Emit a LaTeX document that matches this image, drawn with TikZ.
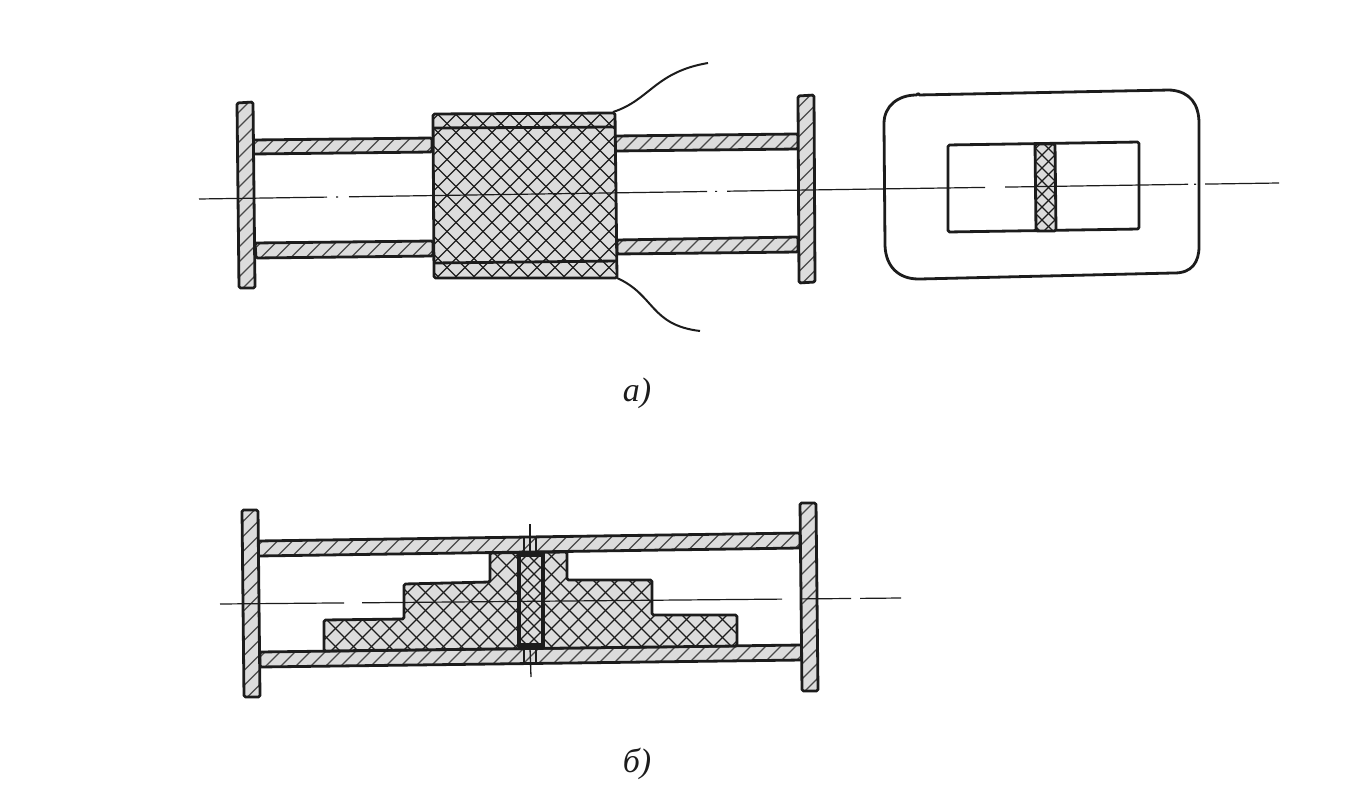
\documentclass[tikz,border=0pt]{standalone}
\usepackage{fontspec}
\setmainfont{Liberation Serif}
\definecolor{ink}{HTML}{1C1C1C}
\definecolor{body}{HTML}{DCDCDC}
\tikzset{
  x=1pt,y=-1pt,
  outline/.style={draw=ink,line width=2.8pt,line join=round,rounded corners=1.5pt},
  slashhatch/.style={outline,fill=body,path picture={
    \foreach \i in {-420,-405,...,420}
      \draw[ink!80,line width=1.1pt] ([xshift=\i pt]path picture bounding box.center) ++(-300pt,-300pt) -- ++(600pt,600pt);}},
  crosshatch/.style={outline,fill=body,path picture={
    \foreach \i in {-420,-402,...,420}{
      \draw[ink,line width=1.3pt] ([xshift=\i pt]path picture bounding box.center) ++(-300pt,-300pt) -- ++(600pt,600pt);
      \draw[ink,line width=1.3pt] ([xshift=\i pt]path picture bounding box.center) ++(-300pt,300pt) -- ++(600pt,-600pt);}}},
  finehatch/.style={outline,fill=body,path picture={
    \foreach \i in {-140,-127,...,140}{
      \draw[ink,line width=1.2pt] ([xshift=\i pt]path picture bounding box.center) ++(-100pt,-100pt) -- ++(200pt,200pt);
      \draw[ink,line width=1.2pt] ([xshift=\i pt]path picture bounding box.center) ++(-100pt,100pt) -- ++(200pt,-200pt);}}},
  axisline/.style={ink,line width=1.2pt},
  wire/.style={ink,line width=2pt},
  thinline/.style={ink,line width=1.3pt},
  heavy/.style={ink,line width=3.6pt},
  caption/.style={font=\itshape\fontsize{34}{34}\selectfont,text=ink,inner sep=0pt}
}
\begin{document}
\begin{tikzpicture}
\useasboundingbox[fill=white] (0,0) rectangle (1370,810);
% --- figure a, left view ---
\path[slashhatch] (253,140) -- (432,138) -- (432,152) -- (253,154) -- cycle;
\path[slashhatch] (255,243) -- (433,241) -- (433,256) -- (256,258) -- cycle;
\path[slashhatch] (615,136) -- (798,134) -- (798,149) -- (615,151) -- cycle;
\path[slashhatch] (617,240) -- (798,237) -- (798,252) -- (617,254) -- cycle;
\path[slashhatch] (237,103) -- (253,102) -- (255,288) -- (239,288) -- cycle;
\path[slashhatch] (798,96) -- (814,95) -- (815,282) -- (799,283) -- cycle;
\path[crosshatch] (433,114) -- (615,113) -- (617,278) -- (434,278) -- cycle;
\draw[outline] (433,128) -- (615,127);
\draw[outline] (434,263) -- (617,261);
\draw[wire] (613,112) .. controls (650,100) and (655,72) .. (708,63);
\draw[wire] (617,278) .. controls (655,295) and (650,325) .. (700,331);
% --- figure a, right view ---
\draw[outline] (918,95) -- (1170,90) .. controls (1190,92) and (1199,104) .. (1199,125)
  -- (1199,245) .. controls (1199,262) and (1192,273) .. (1173,273)
  -- (920,279) .. controls (898,279) and (886,266) .. (885,245)
  -- (884,125) .. controls (884,106) and (898,95) .. (918,95) -- cycle;
\draw[outline] (948,145) -- (1139,142) -- (1139,229) -- (948,232) -- cycle;
\path[finehatch] (1035,144) -- (1055,144) -- (1056,231) -- (1036,231) -- cycle;
\draw[axisline] (199,199) -- (327,197.1) (336,197) -- (338,197) (349,196.8) -- (707,191.5)
  (715,191.4) -- (717,191.4) (727,191.2) -- (985,187.4) (1005,187.1) -- (1188,184.3)
  (1194,184.2) -- (1196,184.2) (1205,184.1) -- (1279,183);
% --- figure b ---
\path[slashhatch] (258,541) -- (800,533) -- (800,548) -- (258,556) -- cycle;
\path[slashhatch] (260,652) -- (802,645) -- (802,660) -- (260,667) -- cycle;
\path[slashhatch] (242,510) -- (258,510) -- (260,697) -- (244,697) -- cycle;
\path[slashhatch] (800,503) -- (816,503) -- (818,691) -- (802,691) -- cycle;
\path[crosshatch] (324,651) -- (324,620) -- (404,619) -- (404,584) -- (490,582) -- (490,553)
  -- (567,552) -- (567,580) -- (652,580) -- (652,615) -- (737,615) -- (737,646) -- cycle;
\path[finehatch] (519,555) -- (543,555) -- (543,645) -- (519,645) -- cycle;
\draw[heavy] (519,555) -- (543,555) -- (543,645) -- (519,645) -- cycle;
\fill[ink] (518,551) rectangle (544,557);
\fill[ink] (518,643) rectangle (544,649);
\draw[thinline] (530,524) -- (530,552);
\draw[thinline] (530,648) -- (531,677);
\draw[thinline] (524,537) -- (524,552);
\draw[thinline] (536,537) -- (536,552);
\draw[thinline] (524,648) -- (524,663);
\draw[thinline] (536,648) -- (536,663);
\draw[axisline] (220,604) -- (344,602.9) (362,602.8) -- (782,599.1) (800,598.9) -- (851,598.5) (860,598.4) -- (901,598);
% --- captions ---
\node[caption] (capa) at (637,393) {а)};
\node[caption] (capb) at (637,764) {б)};
\end{tikzpicture}
\end{document}
